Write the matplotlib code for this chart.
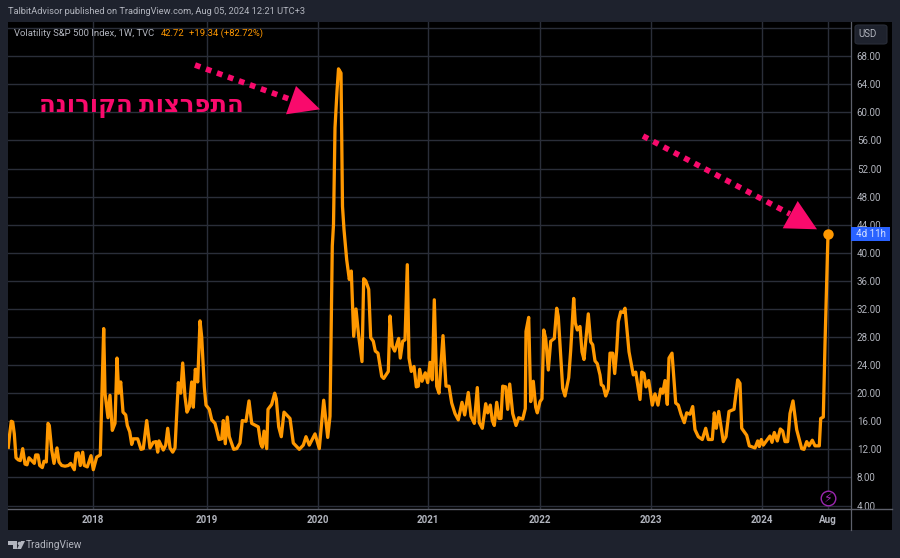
import numpy as np
import matplotlib
matplotlib.use("Agg")
import matplotlib.pyplot as plt
from matplotlib.patches import Rectangle, FancyBboxPatch, Polygon
from matplotlib.lines import Line2D

# chart position (converted to weekly bars below)
time_pos = [8.3,9.7,11.3,12.7,14.3,16,18.3,20.3,22.7,25,27,29,31.7,34.3,35.7,38,39.7,42.3,44,46.3,48,49.3,51.7,54,57,59,61.7,65,68.3,70.7,74.3,76,78.3,80.3,82.7,84.3,87.3,91,93.3,96.7,100.3,
103.7,105,108,110,112.3,115,117,118.7,120.7,123,125.7,127.3,129.7,131.7,133.3,137.7,141,143.3,
146.7,150,153.3,156,157.7,159,163.3,165.7,167.7,170,172.7,175,178.3,180.7,182.7,185,187,189.3,191.7,193.3,195.3,197.7,200,201.7,204.3,206,209.3,211.7,215,219,221.7,223.3,225.3,227.3,229.3,233.7,236.7,240,242.3,246,249,251.7,255.7,258.3,260.7,262.3,264,266.7,268,271.7,274.7,276.3,278.7,281.3,284,
290,293.3,299.3,303.3,306,309.3,315,319.3,323.7,327.7,330,332.3,333.5,335,337,338.5,341,342.5,344,346.7,349.3,351.3,353.7,356,358.7,362,363.7,365.7,368.7,370.7,373.3,375.3,378,381.7,383.7,388.3,390,392.3,394.7,398.7,400.3,402.7,405,407.3,409,411.3,414,416.3,418.3,419.7,422,425.3,427.7,430,432.3,434.3,436.7,439,443,446,449,451.7,455,458.3,
462,464.7,468.3,471,474.3,477.3,479.3,482.3,485.7,487.7,490.3,492.3,494.3,496.7,499,501,502.7,505.7,507.7,509.7,512.7,516,518.7,522.7,525.3,526,528.7,530.7,533.3,535.7,537.3,540,542,543.7,545.7,548.3,550.7,554.3,556.7,558.3,561.5,
562.7,565,568.7,570.7,573.7,575.3,577.3,580,582,584,588.3,590.7,592.7,595,597.3,600,601.3,603.3,605.7,608.3,610,612.7,614.7,616.7,618.3,620.7,623.3,625,629,633.3,635.7,640,641.7,644,646,648.7,652.3,655,658,660.7,662.7,665,667.3,669,672,675.7,678.3,681,684.3,686.7,690,
692.7,695,698.3,702.3,705.7,708.3,712.3,714.3,716.3,718.7,723.3,726,729,734,737.7,740,741.7,746.7,749.3,755,757.7,759.3,761.3,763.3,770,772,774.3,777.3,780.3,782.7,785,787.7,790,793,796.7,801.7,804,806.7,809,812.3,815,819.3,820.7,823.3,825,828]

vix_close = [12.3,14.2,16.0,15.9,14.2,10.8,10.5,10.4,12.1,9.9,9.8,10.8,10.4,10.0,11.2,11.2,9.7,9.4,10.3,10.2,15.7,15.4,11.9,10.0,12.2,10.2,9.7,9.6,9.7,10.0,9.1,11.4,11.5,9.7,11.6,9.7,9.5,11.1,9.1,10.9,11.2,
29.2,20.0,16.5,19.7,14.7,15.7,25.0,20.0,21.6,17.3,16.9,15.4,14.5,12.7,13.5,13.5,12.0,12.1,
16.1,12.2,13.0,13.1,11.6,13.2,11.9,12.6,15.0,12.2,11.6,12.2,21.5,20.0,24.3,19.5,17.3,18.0,21.6,18.0,23.4,21.6,30.3,28.0,20.9,18.3,17.7,16.2,15.7,13.4,13.5,16.1,12.8,16.6,13.8,12.0,12.1,12.9,16.1,16.0,18.9,15.7,15.4,15.2,12.8,12.3,14.6,12.1,17.7,18.4,20.0,19.2,15.2,13.8,17.3,
16.4,12.9,12.0,12.6,13.8,12.6,14.2,12.1,19.0,13.7,16.7,41.0,44.0,57.8,63.0,66.2,65.6,46.6,43.3,39.0,36.2,37.4,28.1,32.0,28.1,24.5,36.3,36.0,34.8,27.9,27.4,26.0,25.7,22.4,22.1,23.1,31.0,26.7,26.0,27.8,25.0,27.4,27.6,38.3,25.0,23.1,23.8,20.9,21.0,23.4,21.7,22.9,21.5,24.4,21.9,33.3,21.0,20.0,28.2,21.0,21.0,18.6,17.1,16.2,
18.7,16.9,20.1,16.7,15.7,20.8,15.8,15.0,18.5,17.2,18.3,16.1,15.4,18.7,16.4,16.4,21.0,20.9,17.7,21.3,17.1,15.4,16.5,16.3,17.8,28.8,30.8,18.8,21.7,18.0,17.2,18.8,19.2,29.0,27.8,23.3,27.4,27.8,32.1,30.9,23.5,
20.7,19.6,22.2,26.1,33.5,30.0,29.0,29.5,25.9,24.8,31.3,27.3,26.9,24.6,24.2,22.6,21.2,21.0,19.6,20.6,25.7,25.7,22.8,26.1,30.2,31.6,31.5,32.1,25.9,22.6,23.0,19.1,23.0,22.8,20.9,21.8,18.3,19.9,18.3,20.6,20.0,21.8,18.4,25.0,25.7,18.6,18.3,17.0,15.8,17.2,17.0,
18.1,14.8,13.8,13.4,15.0,13.4,13.4,17.2,15.0,17.4,13.1,13.8,17.4,17.7,21.9,21.4,15.0,14.0,12.5,12.2,13.2,12.4,13.4,12.6,13.9,13.0,14.4,13.2,14.9,14.6,13.1,13.1,17.1,18.9,14.8,12.1,12.0,13.1,12.5,13.3,12.5,12.5,16.4,16.6,27.0,42.72]

price_ticks = list(range(4, 73, 4))
time_labels = ["2018", "2019", "2020", "2021", "2022", "2023", "2024", "Aug"]
time_tick_pos = [93.3, 207.0, 318.0, 428.3, 539.7, 650.7, 762.0, 828.0]

W, H = 900, 558
BG, ORANGE, PINK, GRID, TXT = "#1e222d", "#ff9800", "#f90a6c", "#2a2e39", "#b2b5be"
plt.rcParams["font.family"] = ["Roboto", "DejaVu Sans"]

def fx(x): return x / W
def fy(y): return 1 - y / H

fig = plt.figure(figsize=(W / 100, H / 100), dpi=100, facecolor=BG)
tf = fig.transFigure
fig.add_artist(Rectangle((fx(8), fy(530)), fx(884), (530 - 21.5) / H, transform=tf, fc="black", ec="none", zorder=-5))

ax = fig.add_axes([fx(8), fy(509), fx(842.5), (509 - 21.5) / H], facecolor="black", zorder=1)
weeks = (np.array(time_pos) - 8) / 2.14
tick_weeks = (np.array(time_tick_pos) - 8) / 2.14
ax.plot(weeks, vix_close, color=ORANGE, lw=2.35, solid_joinstyle="round", zorder=3)
ax.plot(weeks[-1], vix_close[-1], "o", ms=7.5, color=ORANGE, mec="none", zorder=4)
ax.set_xlim(0, 842.5 / 2.14)
ax.set_ylim(4 + (505.5 - 509) / 7.02, 4 + (505.5 - 21.5) / 7.02)

ax.set_yticks(price_ticks)
ax.set_yticklabels(["" if v == 72 else f"{v:.2f}" for v in price_ticks])
ax.yaxis.tick_right()
ax.set_xticks(tick_weeks)
ax.set_xticklabels(time_labels)
ax.tick_params(axis="y", length=0, pad=4.5, labelsize=7.0, labelcolor=TXT)
ax.tick_params(axis="x", length=0, pad=4.5, labelsize=7.0, labelcolor=TXT)
for lab in ax.get_xticklabels():
    lab.set_fontweight("bold")
ax.grid(True, color=GRID, lw=1.0)
ax.set_axisbelow(True)
for s in ("top", "left", "right"):
    ax.spines[s].set_visible(False)
ax.spines["bottom"].set_color("#5d606b")
ax.spines["bottom"].set_linewidth(1.0)

over = dict(transform=tf, zorder=10)
fig.add_artist(Line2D([fx(850.5)] * 2, [fy(21.5), fy(530)], color="#5d606b", lw=0.9, **over))
fig.add_artist(Line2D([fx(850.5), fx(892)], [fy(509)] * 2, color="#5d606b", lw=1.0, **over))

# header texts
fig.text(fx(8), fy(12), "TalbitAdvisor published on TradingView.com, Aug 05, 2024 12:21 UTC+3",
         color=TXT, fontsize=6.65, va="center", zorder=10)
fig.text(fx(14), fy(33), "Volatility S&P 500 Index, 1W, TVC", color=TXT, fontsize=6.8, va="center", zorder=10)
fig.text(fx(161), fy(33), "42.72", color=ORANGE, fontsize=6.8, va="center", zorder=10)
fig.text(fx(189), fy(33), "+19.34 (+82.72%)", color=ORANGE, fontsize=6.8, va="center", zorder=10)
fig.text(fx(26), fy(545), "TradingView", color=TXT, fontsize=7.3, va="center", zorder=10)

# TradingView logo
for pts in ([(8, 541), (17, 541), (17, 549), (13, 549), (13, 545), (8, 545)],
            [(21, 541), (25, 541), (21, 549), (17, 549)]):
    fig.add_artist(Polygon([(fx(a), fy(b)) for a, b in pts], fc=TXT, ec="none", **over))
fig.add_artist(Line2D([fx(19)], [fy(543)], marker="o", ms=2.6, mfc=TXT, mec="none", **over))

# USD button
fig.add_artist(FancyBboxPatch((fx(855), fy(44)), fx(32), 19 / H,
                              boxstyle="round,pad=0,rounding_size=0.004", fc=BG, ec="#2a2e39", lw=0.8, **over))
fig.text(fx(868), fy(34), "USD", color=TXT, fontsize=7.0, va="center", ha="center", zorder=11)

# countdown label
fig.add_artist(Rectangle((fx(850.5), fy(240.5)), fx(39), 13.5 / H, fc="#2962ff", ec="none", **over))
fig.text(fx(871), fy(234), "4d 11h", color="#d7e3ff", fontsize=7.0, va="center", ha="center", zorder=11)

# arrows (annotations)
for (x0, y0, x1, y1), tri in (
    ((195, 65, 292, 100), [(296, 86), (320, 109.3), (286, 114.3)]),
    ((643, 136, 790, 214), [(797.7, 201), (817, 229.3), (782.7, 228.3)])):
    fig.add_artist(Line2D([fx(x0), fx(x1)], [fy(y0), fy(y1)], color=PINK, lw=4.1,
                          linestyle=(0, (1.0, 1.05)), dash_capstyle="butt", **over))
    fig.add_artist(Polygon([(fx(a), fy(b)) for a, b in tri], fc=PINK, ec="none", **over))

# Hebrew annotation (matplotlib lays out left to right, so the logical string is reversed)
hebrew_label = "התפרצות הקורונה"
fig.text(fx(141.5), fy(106), hebrew_label[::-1], color=PINK, fontsize=17.5, ha="center", va="center",
         family=["Open Sans", "Noto Sans", "DejaVu Sans"], fontweight="semibold", zorder=10)

# event icon
fig.add_artist(Line2D([fx(828)], [fy(498)], marker="o", ms=10.5, mfc="black", mec="#9c27b0", mew=1.0, **over))
fig.text(fx(828), fy(498), "\u26a1", color="#9c27b0", fontsize=9, ha="center", va="center",
         family="DejaVu Sans", zorder=11)

fig.savefig("out.png", dpi=100, facecolor=BG)
